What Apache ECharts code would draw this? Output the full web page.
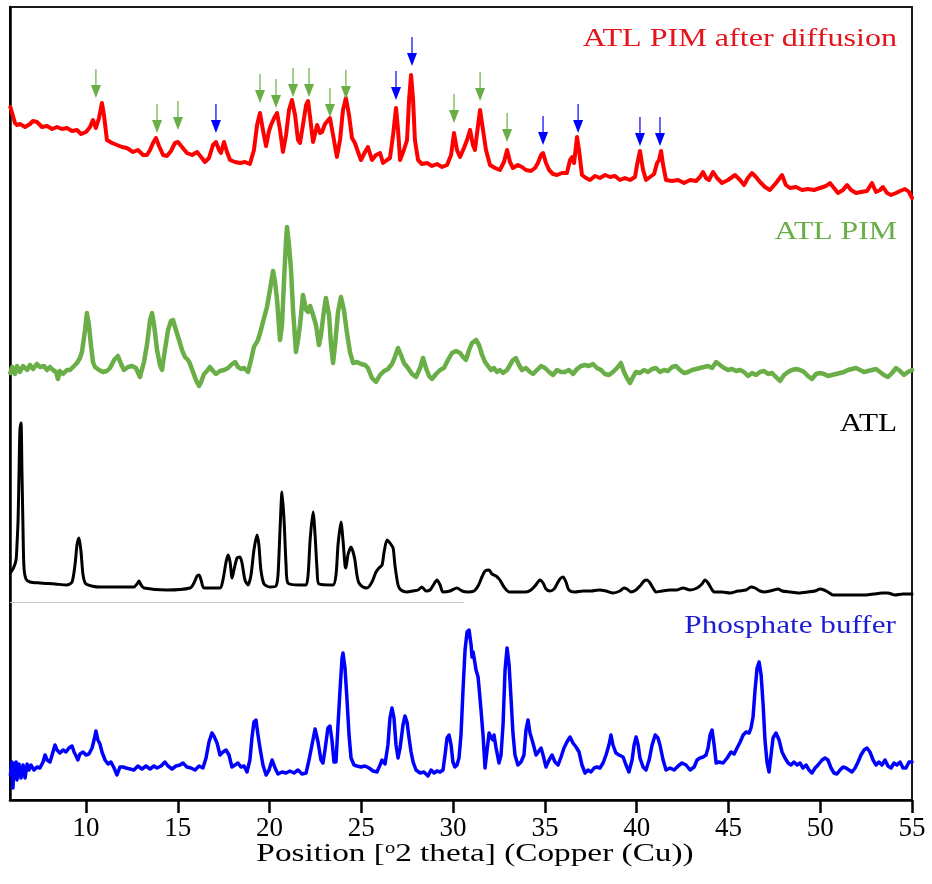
<!DOCTYPE html>
<html>
<head>
<meta charset="utf-8">
<script src="https://cdn.jsdelivr.net/npm/echarts@6/dist/echarts.min.js"></script>
<style>
  html, body { margin: 0; padding: 0; background: #fff; }
  #chart { width: 932px; height: 884px; }
</style>
</head>
<body>
<div id="chart"></div>
<script>
// X-ray powder diffraction patterns, [2θ (deg), counts] pairs, stacked vertically.

const twoThetaRange = [5.86, 55];
const tickValues = [10, 15, 20, 25, 30, 35, 40, 45, 50, 55];

// vertical offsets used to stack the four patterns
const offsets = { diffused: 600, pim: 420, atl: 205, buffer: 20 };

const atlPimAfterDiffusion = [
  [5.88,93],[6.13,77],[6.24,75],[6.40,76],[6.68,73],[6.95,76],[7.11,79],[7.33,78],[7.60,73],[7.88,74],[8.15,71],[8.42,73],[8.69,71],[8.96,72],[9.24,69],[9.51,70],[9.73,66],[10.00,68],[10.22,73],[10.38,80],[10.54,72],[10.71,82],[10.87,97],[10.98,85],[11.14,60],[11.42,57],[11.69,55],[11.96,53],[12.23,52],[12.56,48],[12.83,50],[13.11,45],[13.32,45],[13.49,50],[13.65,57],[13.81,62],[13.98,54],[14.20,45],[14.41,44],[14.63,49],[14.85,57],[15.01,58],[15.23,53],[15.50,47],[15.78,45],[16.05,48],[16.27,43],[16.48,38],[16.70,42],[16.92,55],[17.08,58],[17.25,50],[17.35,47],[17.52,58],[17.68,48],[17.85,40],[18.12,38],[18.39,37],[18.66,38],[18.93,36],[19.15,50],[19.32,75],[19.48,87],[19.64,70],[19.81,54],[19.97,69],[20.08,75],[20.25,82],[20.41,87],[20.57,70],[20.73,48],[20.90,65],[21.06,90],[21.22,100],[21.39,85],[21.55,60],[21.66,57],[21.82,75],[21.99,95],[22.10,99],[22.26,75],[22.37,58],[22.59,75],[22.75,67],[22.86,68],[23.02,76],[23.29,82],[23.46,65],[23.67,43],[23.84,60],[24.00,90],[24.16,102],[24.33,85],[24.49,62],[24.65,57],[24.82,48],[24.98,40],[25.20,48],[25.36,53],[25.58,40],[25.80,45],[26.02,47],[26.18,37],[26.40,40],[26.56,42],[26.73,65],[26.89,92],[27.00,70],[27.11,40],[27.32,50],[27.49,60],[27.60,100],[27.71,125],[27.82,100],[27.92,60],[28.09,40],[28.30,36],[28.58,37],[28.85,34],[29.12,36],[29.40,33],[29.67,35],[29.89,45],[30.05,67],[30.21,50],[30.38,43],[30.59,52],[30.76,60],[30.92,70],[31.08,55],[31.19,50],[31.36,75],[31.47,90],[31.63,70],[31.79,50],[32.01,35],[32.28,32],[32.55,30],[32.77,38],[32.94,50],[33.10,38],[33.26,32],[33.53,35],[33.75,33],[33.97,30],[34.24,29],[34.46,32],[34.62,37],[34.79,45],[34.90,47],[35.06,37],[35.23,30],[35.44,26],[35.66,25],[35.93,27],[36.20,27],[36.37,40],[36.48,43],[36.59,37],[36.75,63],[36.86,50],[37.02,25],[37.24,22],[37.46,20],[37.73,24],[38.00,22],[38.28,25],[38.55,23],[38.82,24],[39.09,20],[39.36,22],[39.64,20],[39.91,23],[40.02,35],[40.18,49],[40.35,30],[40.51,20],[40.73,23],[40.95,26],[41.11,37],[41.22,40],[41.33,49],[41.44,35],[41.60,20],[41.93,19],[42.26,20],[42.58,17],[42.91,20],[43.24,19],[43.45,23],[43.61,28],[43.78,22],[43.94,20],[44.16,28],[44.38,22],[44.65,17],[44.98,20],[45.36,25],[45.63,20],[45.85,15],[46.06,22],[46.28,27],[46.50,23],[46.72,18],[46.99,13],[47.26,10],[47.59,17],[47.92,25],[48.13,15],[48.35,12],[48.68,13],[49.01,10],[49.33,11],[49.66,10],[49.99,12],[50.31,14],[50.53,17],[50.75,12],[50.97,7],[51.24,10],[51.46,15],[51.68,10],[51.95,7],[52.22,8],[52.55,9],[52.82,17],[53.04,8],[53.26,10],[53.42,13],[53.64,7],[53.86,5],[54.13,7],[54.35,9],[54.62,11],[54.84,8],[55.00,2]
];

// reflections marked above the diffused pattern (tip heights in its own counts)
const pimPeakX   = [10.54, 13.87, 15.01, 19.48, 20.35, 21.28, 22.15, 23.29, 24.16, 30.05, 31.47, 32.94];
const pimPeakTip = [102, 67, 70, 97, 92, 103, 103, 83, 101, 77, 99, 58];
const bufferPeakX   = [17.08, 26.89, 27.76, 34.90, 36.81, 40.18, 41.27];
const bufferPeakTip = [67, 100, 134, 55, 67, 54, 54];

const atlPim = [
  [5.88,7],[5.98,13],[6.13,6],[6.24,14],[6.40,8],[6.57,14],[6.79,10],[6.95,15],[7.11,11],[7.33,16],[7.49,13],[7.71,14],[7.88,10],[8.04,13],[8.20,10],[8.37,8],[8.47,1],[8.58,9],[8.75,6],[8.96,10],[9.13,10],[9.35,14],[9.51,17],[9.67,22],[9.78,28],[9.95,50],[10.05,67],[10.16,55],[10.27,35],[10.38,18],[10.49,13],[10.71,10],[10.93,8],[11.14,9],[11.31,12],[11.53,20],[11.74,24],[11.91,16],[12.07,10],[12.29,13],[12.51,14],[12.72,12],[12.94,3],[13.16,18],[13.32,35],[13.49,60],[13.60,67],[13.71,55],[13.87,30],[14.03,15],[14.14,10],[14.30,30],[14.47,50],[14.63,59],[14.74,60],[14.90,50],[15.07,40],[15.23,30],[15.39,23],[15.56,20],[15.67,16],[15.83,8],[15.99,0],[16.16,-6],[16.27,-2],[16.43,6],[16.59,9],[16.75,13],[16.92,9],[17.08,6],[17.30,9],[17.52,10],[17.74,12],[17.96,16],[18.12,18],[18.28,13],[18.44,11],[18.61,12],[18.83,8],[18.99,20],[19.15,33],[19.37,40],[19.53,50],[19.70,62],[19.86,73],[20.02,90],[20.19,109],[20.30,98],[20.41,80],[20.57,40],[20.68,55],[20.79,100],[20.90,140],[20.95,153],[21.06,135],[21.17,110],[21.28,70],[21.44,28],[21.55,40],[21.66,55],[21.82,85],[21.99,70],[22.10,68],[22.21,74],[22.37,65],[22.53,55],[22.69,35],[22.80,45],[22.97,70],[23.07,82],[23.24,65],[23.35,35],[23.46,17],[23.57,35],[23.73,68],[23.89,83],[24.05,70],[24.22,47],[24.38,28],[24.55,17],[24.76,18],[24.98,16],[25.20,15],[25.36,12],[25.58,2],[25.80,-2],[26.02,5],[26.24,9],[26.45,11],[26.67,16],[26.83,23],[27.00,32],[27.16,25],[27.32,17],[27.54,12],[27.76,6],[27.98,3],[28.20,12],[28.36,22],[28.52,12],[28.69,4],[28.85,1],[29.07,6],[29.29,10],[29.50,12],[29.72,20],[29.94,27],[30.16,29],[30.38,27],[30.54,23],[30.70,20],[30.87,30],[31.03,37],[31.25,40],[31.41,35],[31.58,25],[31.74,18],[31.90,14],[32.06,10],[32.23,12],[32.39,8],[32.55,10],[32.72,7],[32.94,10],[33.10,15],[33.26,20],[33.42,22],[33.59,15],[33.75,10],[33.97,12],[34.19,8],[34.35,6],[34.57,10],[34.79,14],[35.01,12],[35.23,8],[35.44,5],[35.66,10],[35.88,8],[36.09,8],[36.31,10],[36.53,6],[36.75,11],[36.97,14],[37.18,15],[37.40,14],[37.62,16],[37.84,12],[38.06,10],[38.27,6],[38.49,5],[38.71,8],[38.93,12],[39.14,17],[39.31,8],[39.47,2],[39.64,-3],[39.80,3],[39.96,8],[40.18,7],[40.40,10],[40.62,8],[40.84,11],[41.05,12],[41.27,8],[41.49,10],[41.71,9],[41.93,13],[42.15,14],[42.36,10],[42.58,7],[42.80,8],[43.02,10],[43.24,11],[43.45,12],[43.67,13],[43.89,14],[44.11,12],[44.33,18],[44.54,15],[44.76,12],[44.98,10],[45.20,11],[45.42,9],[45.63,10],[45.85,8],[46.07,4],[46.29,7],[46.50,5],[46.72,8],[46.94,9],[47.16,6],[47.37,7],[47.59,3],[47.81,-1],[48.03,5],[48.25,8],[48.46,10],[48.68,11],[48.90,10],[49.12,8],[49.33,4],[49.55,1],[49.77,6],[49.99,7],[50.21,6],[50.42,4],[50.64,5],[50.86,6],[51.08,7],[51.30,8],[51.51,10],[51.73,11],[51.95,12],[52.17,10],[52.38,8],[52.60,9],[52.82,10],[53.04,11],[53.26,8],[53.47,5],[53.69,3],[53.91,7],[54.13,12],[54.35,9],[54.56,5],[54.78,8],[55.00,10]
];

const atl = [
  [5.88,22],[6.05,27],[6.19,35],[6.24,50],[6.30,75],[6.35,120],[6.40,165],[6.46,172],[6.51,125],[6.57,65],[6.62,28],[6.73,16],[6.95,13],[7.49,12],[8.31,11],[8.96,10],[9.24,13],[9.40,30],[9.51,50],[9.62,57],[9.73,43],[9.84,20],[10.00,11],[10.76,8],[11.85,8],[12.61,8],[12.78,11],[12.89,14],[13.00,10],[13.16,7],[14.41,5],[15.67,7],[15.88,12],[16.05,19],[16.16,20],[16.27,15],[16.43,7],[17.30,7],[17.46,15],[17.63,33],[17.74,40],[17.85,33],[17.96,17],[18.06,25],[18.23,37],[18.39,38],[18.50,32],[18.66,15],[18.83,10],[18.99,20],[19.15,45],[19.32,60],[19.42,50],[19.53,25],[19.70,11],[20.02,8],[20.35,9],[20.46,20],[20.57,65],[20.68,103],[20.79,75],[20.90,30],[21.00,12],[21.66,10],[21.99,10],[22.10,20],[22.21,55],[22.37,83],[22.48,60],[22.59,25],[22.69,11],[23.46,10],[23.62,20],[23.73,50],[23.89,73],[24.00,55],[24.11,30],[24.16,27],[24.27,40],[24.44,48],[24.55,43],[24.65,35],[24.76,20],[24.87,12],[25.09,8],[25.31,7],[25.58,13],[25.80,23],[25.96,27],[26.13,30],[26.24,43],[26.40,55],[26.56,52],[26.73,47],[26.83,30],[27.00,10],[27.16,5],[27.49,3],[27.81,4],[28.09,5],[28.30,8],[28.52,4],[28.74,5],[28.96,11],[29.12,15],[29.29,10],[29.45,3],[29.83,4],[30.21,7],[30.49,4],[30.81,3],[31.14,4],[31.36,9],[31.57,18],[31.74,24],[31.96,25],[32.12,21],[32.34,19],[32.55,15],[32.77,8],[33.05,3],[33.37,3],[33.64,3],[33.97,3],[34.24,5],[34.46,9],[34.62,13],[34.73,15],[34.90,12],[35.06,6],[35.28,4],[35.50,6],[35.66,11],[35.82,16],[35.99,18],[36.15,13],[36.31,5],[36.64,3],[37.08,4],[37.51,4],[37.95,5],[38.33,4],[38.71,2],[39.09,4],[39.31,7],[39.47,6],[39.69,3],[39.96,5],[40.18,9],[40.40,14],[40.56,15],[40.73,12],[40.89,7],[41.05,3],[41.38,4],[41.82,5],[42.20,5],[42.53,7],[42.91,5],[43.29,7],[43.56,11],[43.72,15],[43.89,12],[44.05,7],[44.22,3],[44.65,3],[45.09,2],[45.52,4],[45.96,5],[46.23,8],[46.45,7],[46.72,4],[46.99,3],[47.26,4],[47.48,5],[47.70,6],[47.92,4],[48.35,3],[48.84,2],[49.33,3],[49.72,4],[49.99,6],[50.21,5],[50.42,3],[50.70,0],[51.35,0],[52.00,0],[52.49,0],[52.93,1],[53.36,2],[53.69,2],[54.07,0],[54.51,1],[55.00,1]
];

const phosphateBuffer = [
  [5.88,5],[5.97,18],[6.02,-8],[6.08,15],[6.19,18],[6.24,0],[6.35,16],[6.46,2],[6.57,15],[6.68,2],[6.79,16],[6.89,10],[7.00,15],[7.17,10],[7.33,13],[7.49,12],[7.66,18],[7.77,25],[7.88,20],[8.04,18],[8.20,28],[8.31,35],[8.42,30],[8.58,27],[8.75,30],[8.91,28],[9.07,32],[9.24,34],[9.35,28],[9.46,24],[9.56,20],[9.67,26],[9.84,28],[10.00,25],[10.16,26],[10.33,32],[10.44,40],[10.54,49],[10.65,40],[10.76,36],[10.87,28],[11.04,20],[11.20,16],[11.36,18],[11.53,12],[11.69,5],[11.85,13],[12.02,13],[12.18,12],[12.40,11],[12.61,10],[12.83,14],[13.05,11],[13.27,14],[13.49,11],[13.70,14],[13.87,12],[14.09,14],[14.30,18],[14.47,14],[14.69,11],[14.90,14],[15.12,15],[15.28,17],[15.50,13],[15.72,12],[15.94,10],[16.16,14],[16.37,12],[16.54,22],[16.70,38],[16.86,47],[16.97,44],[17.14,37],[17.30,25],[17.46,28],[17.63,30],[17.79,25],[17.95,13],[18.12,15],[18.28,17],[18.44,13],[18.61,14],[18.77,8],[18.93,20],[19.04,42],[19.15,58],[19.26,60],[19.37,45],[19.48,32],[19.64,15],[19.81,5],[19.97,10],[20.14,20],[20.30,12],[20.46,6],[20.68,8],[20.90,7],[21.11,9],[21.33,7],[21.55,10],[21.77,6],[21.99,7],[22.15,20],[22.31,35],[22.48,51],[22.64,38],[22.80,20],[22.91,17],[23.02,30],[23.18,52],[23.29,54],[23.40,40],[23.51,18],[23.62,18],[23.73,55],[23.84,90],[23.95,122],[24.00,127],[24.11,112],[24.22,80],[24.33,45],[24.44,22],[24.60,15],[24.76,14],[24.98,13],[25.20,14],[25.42,12],[25.64,9],[25.85,8],[26.02,15],[26.13,20],[26.29,16],[26.45,35],[26.56,62],[26.67,72],[26.78,62],[26.89,35],[27.00,22],[27.11,32],[27.27,55],[27.38,64],[27.49,58],[27.60,42],[27.71,28],[27.82,18],[27.98,10],[28.20,7],[28.41,8],[28.63,4],[28.80,10],[28.96,7],[29.12,9],[29.29,8],[29.45,10],[29.56,25],[29.67,42],[29.78,45],[29.89,35],[29.99,18],[30.10,13],[30.21,15],[30.32,22],[30.43,45],[30.54,90],[30.65,130],[30.76,148],[30.87,150],[30.98,135],[31.03,123],[31.09,128],[31.14,130],[31.25,110],[31.36,103],[31.41,93],[31.52,70],[31.63,45],[31.74,12],[31.85,30],[31.96,47],[32.07,42],[32.18,40],[32.23,45],[32.34,32],[32.50,17],[32.61,25],[32.72,55],[32.83,110],[32.94,132],[33.05,115],[33.16,80],[33.26,47],[33.37,25],[33.53,15],[33.70,18],[33.86,25],[33.97,50],[34.08,60],[34.19,47],[34.35,37],[34.52,25],[34.62,23],[34.79,32],[34.90,25],[35.06,13],[35.23,20],[35.39,25],[35.55,18],[35.72,15],[35.88,23],[36.04,32],[36.20,38],[36.37,43],[36.53,37],[36.70,33],[36.86,28],[37.02,15],[37.19,7],[37.35,10],[37.51,8],[37.68,12],[37.84,13],[38.00,12],[38.17,17],[38.33,25],[38.49,35],[38.60,45],[38.71,35],[38.87,27],[39.04,25],[39.26,23],[39.42,15],[39.58,8],[39.75,20],[39.86,35],[39.97,43],[40.08,35],[40.18,22],[40.35,13],[40.51,10],[40.68,20],[40.84,35],[41.01,45],[41.16,42],[41.27,35],[41.44,20],[41.60,10],[41.82,12],[42.04,10],[42.26,14],[42.47,17],[42.69,15],[42.91,10],[43.13,13],[43.29,20],[43.45,22],[43.62,23],[43.78,25],[43.89,32],[44.00,45],[44.11,50],[44.22,35],[44.33,17],[44.49,18],[44.71,17],[44.93,22],[45.14,28],[45.31,26],[45.47,32],[45.64,38],[45.80,45],[45.96,48],[46.13,47],[46.23,52],[46.34,63],[46.45,90],[46.56,112],[46.67,118],[46.78,105],[46.89,75],[46.99,40],[47.10,18],[47.21,8],[47.32,25],[47.43,42],[47.59,47],[47.76,40],[47.92,28],[48.08,22],[48.25,17],[48.41,15],[48.57,18],[48.74,15],[48.90,17],[49.06,12],[49.23,15],[49.39,10],[49.55,7],[49.72,12],[49.88,15],[50.10,20],[50.26,22],[50.42,20],[50.59,12],[50.75,7],[50.91,6],[51.08,10],[51.24,13],[51.40,12],[51.57,10],[51.73,8],[51.90,12],[52.06,18],[52.22,25],[52.39,30],[52.55,32],[52.71,28],[52.88,20],[53.04,15],[53.20,18],[53.36,15],[53.53,20],[53.69,14],[53.86,12],[54.02,17],[54.18,15],[54.35,18],[54.51,12],[54.67,12],[54.84,18],[55.00,18]
];

const labels = {
  diffused: 'ATL PIM after diffusion',
  pim: 'ATL PIM',
  atl: 'ATL',
  buffer: 'Phosphate buffer'
};

const colors = {
  diffused: '#ff0000', diffusedText: '#e3141c',
  pim: '#6aae47',
  atl: '#000000',
  buffer: '#0000ff', bufferText: '#1c1cd2'
};

const serif = '"Liberation Serif", "Times New Roman", serif';
const arrowPath = 'path://M4.4,0L5.6,0L5.6,16L10,16L5,29L0,16L4.4,16Z';

const shift = (pts, off) => pts.map(([t, c]) => [t, c + off]);
const arrows = (xs, tips, off) => xs.map((t, i) => [t, tips[i] + off]);

function traceSeries(name, pts, off, color, width, smooth) {
  return {
    name, type: 'line', data: shift(pts, off), showSymbol: false, symbol: 'none',
    silent: true, animation: false, smooth: smooth || false,
    lineStyle: { color, width, join: 'round', cap: 'round' }
  };
}

function arrowSeries(name, pts, color) {
  return {
    name, type: 'scatter', data: pts, symbol: arrowPath, symbolSize: [10, 29],
    symbolOffset: [0, '-50%'], itemStyle: { color, opacity: 1 }, silent: true, z: 5,
    animation: false
  };
}

function tag(text, color, rightX, cy, sx) {
  return {
    type: 'text', x: rightX, y: cy, scaleX: sx,
    style: {
      text, fill: color, font: '26px ' + serif,
      align: 'right', textAlign: 'right', verticalAlign: 'middle', textVerticalAlign: 'middle'
    }
  };
}

const chart = echarts.init(document.getElementById('chart'), null, { renderer: 'canvas' });

const atlSeries = traceSeries(labels.atl, atl, offsets.atl, colors.atl, 3, 0.25);
atlSeries.markLine = {
  silent: true, symbol: 'none', animation: false,
  label: { show: false },
  lineStyle: { color: '#c4c4c4', width: 1, type: 'solid' },
  data: [[{ coord: [twoThetaRange[0], 198] }, { coord: [30.6, 198] }]]
};

chart.setOption({
  animation: false,
  backgroundColor: '#ffffff',
  grid: {
    left: 10, right: 20, top: 7, bottom: 84, containLabel: false, outerBoundsMode: 'none',
    show: true, borderColor: '#1a1a1a', borderWidth: 2, backgroundColor: 'transparent'
  },
  xAxis: {
    type: 'value', min: twoThetaRange[0], max: twoThetaRange[1],
    axisLine: { show: true, onZero: false, lineStyle: { color: '#000', width: 2.5 } },
    axisTick: { show: true, inside: false, length: 13, lineStyle: { color: '#000', width: 2.5 },
                customValues: tickValues },
    axisLabel: { show: true, margin: 15, color: '#000', fontFamily: serif, fontSize: 27,
                 customValues: tickValues },
    splitLine: { show: false }
  },
  yAxis: {
    type: 'value', min: 0, max: 793,
    axisLine: { show: true, lineStyle: { color: '#000', width: 2.5 } },
    axisTick: { show: false }, axisLabel: { show: false }, splitLine: { show: false }
  },
  series: [
    traceSeries(labels.buffer, phosphateBuffer, offsets.buffer, colors.buffer, 3.5),
    atlSeries,
    traceSeries(labels.pim, atlPim, offsets.pim, colors.pim, 4.5),
    traceSeries(labels.diffused, atlPimAfterDiffusion, offsets.diffused, colors.diffused, 4),
    arrowSeries('PIM reflections', arrows(pimPeakX, pimPeakTip, offsets.diffused), colors.pim),
    arrowSeries('buffer reflections', arrows(bufferPeakX, bufferPeakTip, offsets.diffused), colors.buffer)
  ],
  graphic: [
    tag(labels.diffused, colors.diffusedText, 897, 39, 1.235),
    tag(labels.pim, colors.pim, 897, 232, 1.22),
    tag(labels.atl, colors.atl, 897, 424, 1.2),
    tag(labels.buffer, colors.bufferText, 896, 626, 1.2),
    {
      type: 'text', x: 475, y: 854, scaleX: 1.28,
      style: {
        text: '{a|Position [}{s|o}{a|2 theta] (Copper (Cu))}',
        align: 'center', textAlign: 'center', verticalAlign: 'middle', textVerticalAlign: 'middle',
        fill: '#000', font: '26px ' + serif,
        rich: {
          a: { fontSize: 26, fontFamily: serif, fill: '#000', color: '#000' },
          s: { fontSize: 16, fontFamily: serif, fill: '#000', color: '#000', verticalAlign: 'top' }
        }
      }
    }
  ]
});
</script>
</body>
</html>
